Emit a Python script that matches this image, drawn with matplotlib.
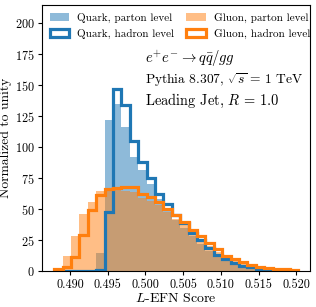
import matplotlib
matplotlib.use('Agg')
import matplotlib.pyplot as plt
import numpy as np

plt.rcParams['font.family'] = 'serif'
plt.rcParams['font.serif'] = ['cmr10']
plt.rcParams['mathtext.fontset'] = 'cm'
plt.rcParams['axes.formatter.use_mathtext'] = True
plt.rcParams['axes.unicode_minus'] = False

# histogram binning (29 bins)
edges = np.linspace(0.4879, 0.5202, 30)
centers = 0.5 * (edges[1:] + edges[:-1])

quark_parton = [0, 0, 0, 0, 0.3, 15, 122, 135, 116, 92, 82, 70, 58, 50, 41,
                35, 28, 22, 16.5, 12, 8, 5.5, 3.5, 2.2, 1.4, 0.8, 0.4, 0.2, 0.1]
quark_hadron = [0, 0.2, 0.3, 0.3, 0.3, 0.5, 48, 147, 134, 105, 88, 75.5, 62.5, 54.5, 45.5,
                38.6, 31, 25.3, 18.7, 13, 9.5, 6.5, 4.5, 3, 2, 1.2, 0.6, 0.2, 0.1]
gluon_parton = [2.2, 12.4, 28.3, 46, 56, 64.7, 65.5, 65.5, 65, 64, 59, 57, 53, 48, 42,
                37, 31, 25.5, 20, 15.5, 11, 8, 6, 4.5, 3.3, 2.5, 2, 1.5, 1.2]
gluon_hadron = [1.3, 3, 11.6, 29, 49, 61.5, 66.5, 67.5, 68, 68, 62, 60, 55.5, 50, 45,
                40, 33.5, 28.5, 23, 17.5, 12.5, 9.5, 7, 5.2, 3.5, 2.6, 1.9, 1.3, 1.0]

fig = plt.figure(figsize=(3.16, 3.07), dpi=100)
ax = fig.add_axes([0.133, 0.117, 0.848, 0.867])

ax.hist(centers, bins=edges, weights=quark_parton, histtype='stepfilled',
        color='C0', alpha=0.5, label='Quark, parton level')
ax.hist(centers, bins=edges, weights=quark_hadron, histtype='step',
        color='C0', lw=2.3, label='Quark, hadron level')
ax.hist(centers, bins=edges, weights=gluon_parton, histtype='stepfilled',
        color='C1', alpha=0.5, label='Gluon, parton level')
ax.hist(centers, bins=edges, weights=gluon_hadron, histtype='step',
        color='C1', lw=2.3, label='Gluon, hadron level')

ax.set_xlim(0.4863, 0.5218)
ax.set_ylim(0, 215)
ax.set_xticks([0.490, 0.495, 0.500, 0.505, 0.510, 0.515, 0.520])
ax.set_xticklabels(['0.490', '0.495', '0.500', '0.505', '0.510', '0.515', '0.520'])
ax.set_yticks(np.arange(0, 201, 25))
ax.tick_params(labelsize=8.8, length=3, pad=2.5)

ax.set_xlabel('$L$-EFN Score', fontsize=10, labelpad=1)
ax.set_ylabel('Normalized to unity', fontsize=9.8, labelpad=2)

ax.text(0.385, 0.80, r'$e^{+}e^{-} \rightarrow q\bar{q}/gg$', transform=ax.transAxes,
        fontsize=10.6, va='center')
ax.text(0.385, 0.718, r'Pythia 8.307, $\sqrt{s}\,=\,1$ TeV', transform=ax.transAxes,
        fontsize=9.7, va='center')
ax.text(0.385, 0.638, r'Leading Jet, $R\,=\,1.0$', transform=ax.transAxes,
        fontsize=10.4, va='center')

ax.legend(loc='upper left', ncol=2, frameon=False, fontsize=8.0,
          handlelength=1.75, columnspacing=1.1, borderaxespad=0.3,
          labelspacing=0.55, handletextpad=0.7)

fig.savefig('out.png', dpi=100)
